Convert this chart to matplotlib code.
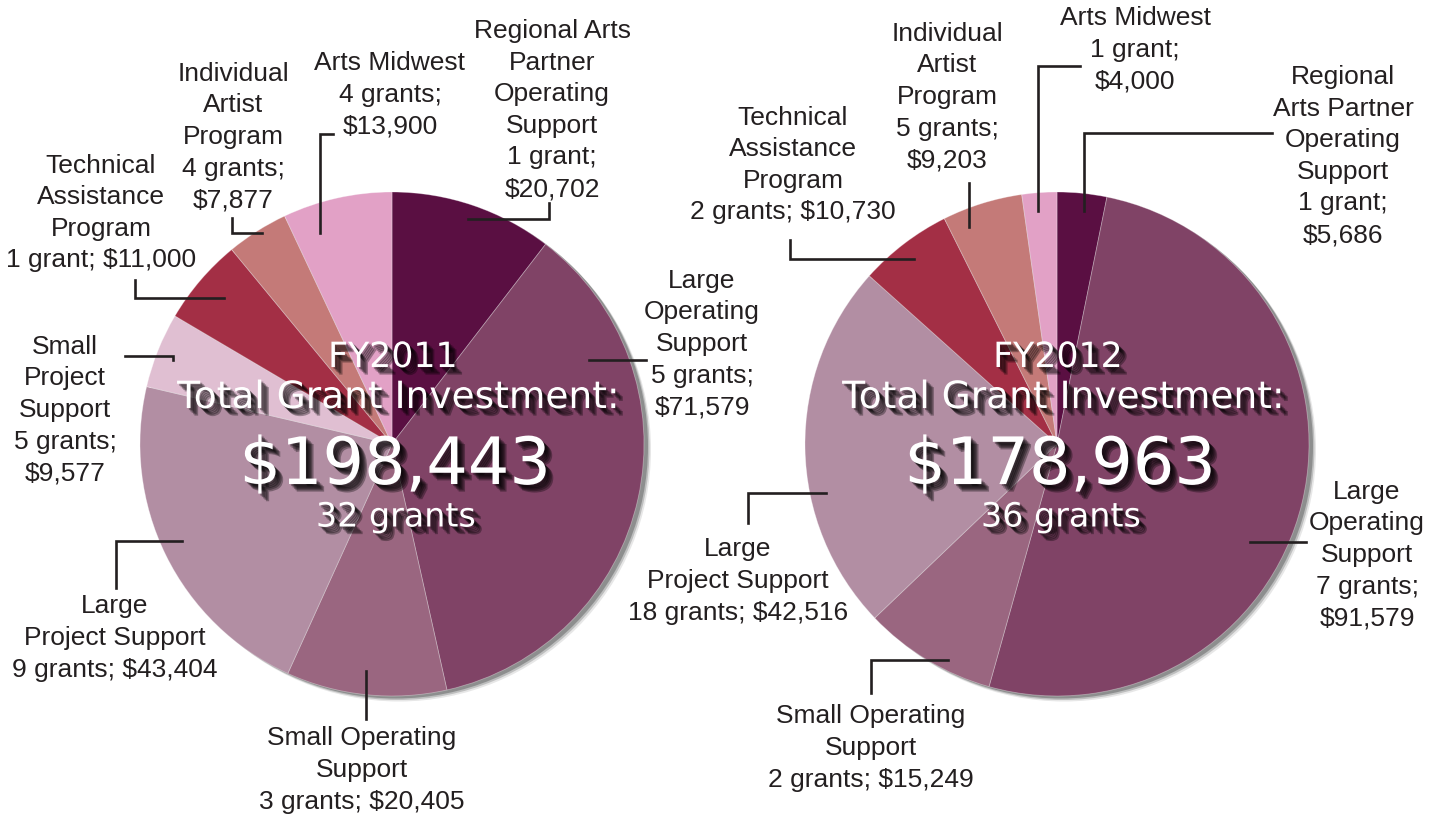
import matplotlib
matplotlib.use("Agg")
import matplotlib.pyplot as plt
import matplotlib.patheffects as pe
from matplotlib.patches import Circle

# slices go clockwise from 12 o'clock
categories = ["Regional Arts Partner Operating Support", "Large Operating Support",
              "Small Operating Support", "Large Project Support",
              "Small Project Support", "Technical Assistance Program",
              "Individual Artist Program", "Arts Midwest"]
colors = ["#5a0f42", "#804366", "#9a6680", "#b28ea3",
          "#e0bfd2", "#a32f45", "#c47a78", "#e2a1c6"]

grants_2011 = [1, 5, 3, 9, 5, 1, 4, 4]
amounts_2011 = [20702, 71579, 20405, 43404, 9577, 11000, 7877, 13900]
total_2011 = 198443

grants_2012 = [1, 7, 2, 18, 0, 2, 5, 1]
amounts_2012 = [5686, 91579, 15249, 42516, 0, 10730, 9203, 4000]
total_2012 = 178963

TXT = "#231f20"
FONT = ["Liberation Sans", "DejaVu Sans"]

# how each label is wrapped: (name text, separator before amount)
wrap_2011 = [("Regional Arts\nPartner\nOperating\nSupport", "\n"),
             ("Large\nOperating\nSupport", "\n"),
             ("Small Operating\nSupport", " "),
             ("Large\nProject Support", " "),
             ("Small\nProject\nSupport", "\n"),
             ("Technical\nAssistance\nProgram", " "),
             ("Individual\nArtist\nProgram", "\n"),
             ("Arts Midwest", "\n")]
wrap_2012 = [("Regional\nArts Partner\nOperating\nSupport", "\n"),
             ("Large\nOperating\nSupport", "\n"),
             ("Small Operating\nSupport", " "),
             ("Large\nProject Support", " "),
             None,
             ("Technical\nAssistance\nProgram", " "),
             ("Individual\nArtist\nProgram", "\n"),
             ("Arts Midwest", "\n")]

# label centre + leader line (pixel coords, y down)
pos_2011 = [(552, 110), (702, 344), (362, 770), (115, 638),
            (65, 410), (101, 213), (233, 137), (390, 95)]
lead_2011 = [[(468, 219), (549, 219), (549, 203)],
             [(589, 360), (646, 360)],
             [(366, 671), (366, 719)],
             [(116, 588), (116, 541), (182, 541)],
             [(125, 356), (173, 356), (173, 360)],
             [(135, 280), (135, 298), (224, 298)],
             [(232, 218), (232, 233), (262, 233)],
             [(333, 134), (320, 134), (320, 233)]]
pos_2012 = [(1343, 156), (1367, 555), (871, 748), (738, 581),
            None, (793, 165), (947, 97), (1135, 50)]
lead_2012 = [[(1272, 133), (1084, 133), (1084, 211)],
             [(1250, 542), (1306, 542)],
             [(871, 693), (871, 660), (948, 660)],
             [(748, 523), (748, 493), (826, 493)],
             None,
             [(790, 240), (790, 259), (914, 259)],
             [(969, 183), (969, 227)],
             [(1080, 66), (1038, 66), (1038, 211)]]

fig = plt.figure(figsize=(14.45, 8.18), dpi=100)
ax = fig.add_axes([0, 0, 1, 1])

# fake blurred dark shadow under the white centre text
shadow = [pe.SimplePatchShadow(offset=(o, -o), shadow_rgbFace="black", alpha=0.32)
          for o in (1.5, 2.5, 3.5, 4.5, 5.5)] + [pe.Normal()]


def draw(cx, cy, r, amounts, grants, wraps, pos, leads, year, total):
    vals = [a for a in amounts if a > 0]
    cols = [c for a, c in zip(amounts, colors) if a > 0]
    # soft drop shadow behind the pie
    for k, a in [(7, 0.15), (5.5, 0.3), (4, 0.5)]:
        ax.add_patch(Circle((cx + k, cy + k - 1.5), r, color="#5f6060", alpha=a, lw=0, zorder=1))
    # y axis is inverted, so startangle -90 / counterclock=True = clockwise from top
    ax.pie(vals, colors=cols, center=(cx, cy), radius=r, startangle=-90,
           counterclock=True, wedgeprops=dict(edgecolor=(1, 1, 1, 0.35), linewidth=0.6, zorder=2))
    for a, n, w, p, ln in zip(amounts, grants, wraps, pos, leads):
        if a == 0:
            continue
        name, sep = w
        s = f"{name}\n{n} grant{'s' if n != 1 else ''};{sep}${a:,}"
        ax.text(p[0], p[1], s, ha="center", va="center", ma="center", fontsize=19,
                color=TXT, family=FONT, linespacing=1.4, zorder=5)
        xs, ys = zip(*ln)
        ax.plot(xs, ys, color=TXT, lw=1.9, solid_joinstyle="miter", zorder=4)
    ax.text(cx + 1, cy - 87, f"FY{year}", ha="center", va="center", fontsize=25,
            color="white", family=["DejaVu Sans"], path_effects=shadow, zorder=6)
    ax.text(cx + 6, cy - 46, "Total Grant Investment:", ha="center", va="center", fontsize=27,
            color="white", family=["DejaVu Sans"], path_effects=shadow, zorder=6)
    ax.text(cx + 3, cy + 22, f"${total:,}", ha="center", va="center", fontsize=47,
            color="white", family=["DejaVu Sans"], path_effects=shadow, zorder=6)
    ax.text(cx + 4, cy + 73, f"{sum(grants)} grants", ha="center", va="center", fontsize=24,
            color="white", family=["DejaVu Sans"], path_effects=shadow, zorder=6)


draw(392, 444, 252, amounts_2011, grants_2011, wrap_2011, pos_2011, lead_2011, 2011, total_2011)
draw(1057, 444, 252, amounts_2012, grants_2012, wrap_2012, pos_2012, lead_2012, 2012, total_2012)

ax.set_xlim(0, 1445)
ax.set_ylim(818, 0)
ax.set_aspect("equal")
ax.axis("off")

fig.savefig("out.png", dpi=100, facecolor="white")
